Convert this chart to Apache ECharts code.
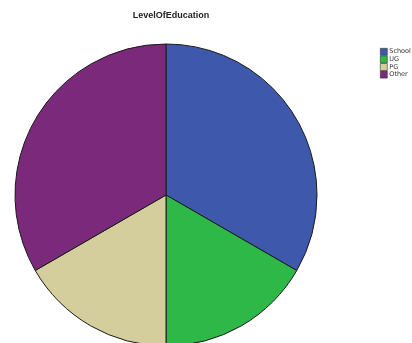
<!DOCTYPE html>
<html>
<head>
<meta charset="utf-8">
<script src="https://cdn.jsdelivr.net/npm/echarts@6/dist/echarts.min.js"></script>
<style>
  html, body { margin: 0; padding: 0; background: #fff; }
  #chart { width: 412px; height: 343px; }
</style>
</head>
<body>
<div id="chart"></div>
<script>
// 数据
const categories = ['School', 'UG', 'PG', 'Other'];
const counts = [2, 1, 1, 2];
const sliceColors = ['#3e58ac', '#2eb848', '#d4ce9c', '#7b2a7b'];

const chart = echarts.init(document.getElementById('chart'), null, { renderer: 'canvas' });

chart.setOption({
  animation: false,
  title: {
    text: 'LevelOfEducation',
    left: 166,
    top: 6,
    textAlign: 'center',
    textStyle: { fontFamily: 'Liberation Sans', fontSize: 9, fontWeight: 'bold', color: '#222' }
  },
  legend: {
    orient: 'vertical',
    left: 375,
    top: 43,
    itemWidth: 7,
    itemHeight: 7,
    itemGap: 0,
    icon: 'rect',
    itemStyle: { borderColor: '#333', borderWidth: 0.6 },
    textStyle: { fontFamily: 'DejaVu Sans', fontSize: 6.5, color: '#333', padding: [0, 0, 0, -3] },
    data: categories
  },
  series: [{
    type: 'pie',
    center: [166, 195],
    radius: 151,
    startAngle: 90,
    clockwise: true,
    label: { show: false },
    labelLine: { show: false },
    itemStyle: { borderColor: '#1a1a1a', borderWidth: 1 },
    emphasis: { disabled: true },
    data: categories.map((name, i) => ({
      name,
      value: counts[i],
      itemStyle: { color: sliceColors[i] }
    }))
  }]
});
</script>
</body>
</html>
